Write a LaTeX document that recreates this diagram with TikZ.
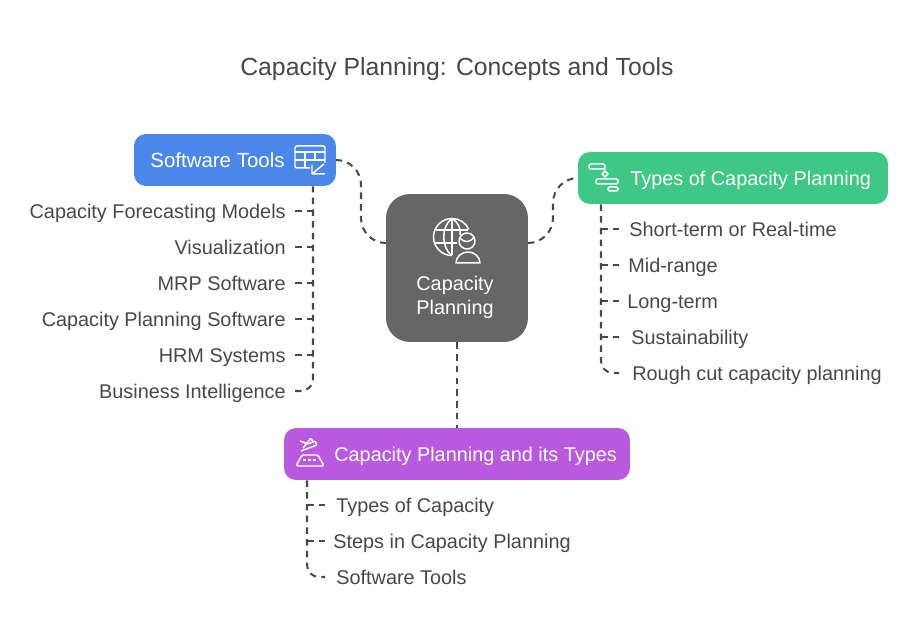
\documentclass[tikz,border=0pt]{standalone}
\usepackage{fontspec}
\setmainfont{Liberation Sans}
\definecolor{toolsblue}{HTML}{4B87E8}
\definecolor{typesgreen}{HTML}{3EC785}
\definecolor{hubpurple}{HTML}{B859E0}
\definecolor{centregray}{HTML}{666666}
\definecolor{inkgray}{HTML}{484848}
\tikzset{
    box/.style={rectangle, rounded corners=0.24cm, minimum height=1.04cm, inner sep=0pt},
    boxtext/.style={text=white, font=\fontsize{11.3}{14}\selectfont, inner sep=0pt, anchor=west, text height=11.4pt, text depth=2.4pt},
    leaf/.style={text=inkgray, font=\fontsize{11.3}{14}\selectfont, inner ysep=0pt, text height=11.4pt, text depth=2.4pt},
    link/.style={draw=inkgray, line width=1.15pt, dash pattern=on 0.13cm off 0.105cm},
    icon/.style={draw=white, line width=0.85pt, line join=round}
}
\begin{document}
\begin{tikzpicture}[x=0.02cm, y=-0.02cm]
    \useasboundingbox (0,0) rectangle (914,638);
    \node[text=inkgray, font=\fontsize{14.1}{16}\selectfont, text height=12.7pt, text depth=3pt] (title) at (457,67) {Capacity Planning: Concepts and Tools};

    % Boxes
    \node[box, fill=centregray, rounded corners=0.48cm, minimum width=2.84cm, minimum height=2.96cm] (capacity) at (457,268) {};
    \node[box, fill=toolsblue, minimum width=4.04cm] (tools) at (235,160) {};
    \node[box, fill=typesgreen, minimum width=6.2cm] (types) at (733,178) {};
    \node[box, fill=hubpurple, minimum width=6.92cm] (hub) at (457,454) {};
    \node[boxtext, font=\fontsize{11.65}{14}\selectfont] (toolstext) at (150,160) {Software Tools};
    \node[boxtext] (typestext) at (630,178) {Types of Capacity Planning};
    \node[boxtext] (hubtext) at (334,454) {Capacity Planning and its Types};
    \node[text=white, font=\fontsize{11.3}{13.6}\selectfont, align=center, inner sep=0pt] (capacitytext) at (455,297) {Capacity\\Planning};

    % Links from the centre
    \coordinate (capleft) at (386,243);
    \coordinate (capright) at (528,243);
    \draw[link, rounded corners=0.5cm] (tools.east) -- (361,160) -- (361,243) -- (capleft);
    \draw[link, rounded corners=0.5cm] (capright) -- (553,243) -- (553,178) -- (types.west);
    \draw[link] (capacity.south) -- (hub.north);

    % Left list
    \foreach \y/\nm/\txt in {211/tlA/Capacity Forecasting Models, 247/tlB/Visualization, 283/tlC/MRP Software,
        319/tlD/Capacity Planning Software, 355/tlE/HRM Systems} {
        \node[leaf, anchor=east, inner xsep=0.18cm] (\nm) at (295,\y) {\txt};
        \coordinate (\nm j) at (313,\y);
        \draw[link] (\nm.east) -- (\nm j);
    }
    \node[leaf, anchor=east, inner xsep=0.18cm] (tlF) at (295,391) {Business Intelligence};
    \coordinate (toolsend) at (313,391);
    \draw[link, rounded corners=0.24cm] (tlF.east) -- (toolsend) -- (tools.south -| toolsend);

    % Right list
    \foreach \y/\s/\nm/\txt in {229/0.2/tyA/Short-term or Real-time, 265/0.18/tyB/Mid-range, 301/0.16/tyC/Long-term,
        337/0.24/tyD/Sustainability} {
        \node[leaf, anchor=west, inner xsep=\s cm] (\nm) at (619,\y) {\txt};
        \coordinate (\nm j) at (601,\y);
        \draw[link] (\nm j) -- (\nm.west);
    }
    \node[leaf, anchor=west, inner xsep=0.26cm] (tyE) at (619,373) {Rough cut capacity planning};
    \coordinate (typesend) at (601,373);
    \draw[link, rounded corners=0.24cm] (types.south -| typesend) -- (typesend) -- (tyE.west);

    % Bottom list
    \foreach \y/\s/\nm/\txt in {505/0.22/hbA/Types of Capacity, 541/0.16/hbB/Steps in Capacity Planning} {
        \node[leaf, anchor=west, inner xsep=\s cm] (\nm) at (325,\y) {\txt};
        \coordinate (\nm j) at (307,\y);
        \draw[link] (\nm j) -- (\nm.west);
    }
    \node[leaf, anchor=west, inner xsep=0.22cm] (hbC) at (325,577) {Software Tools};
    \coordinate (hubend) at (307,577);
    \draw[link, rounded corners=0.24cm] (hub.south -| hubend) -- (hubend) -- (hbC.west);

    % Table icon
    \draw[icon, rounded corners=0.04cm] (310,168) -- (295,168) -- (295,146) -- (325,146) -- (325,163);
    \draw[icon] (295,152) -- (325,152) (295,160) -- (325,160) (305,152) -- (305,168) (315,152) -- (315,160);
    \draw[icon] (312,165) -- (312,174) -- (325,174) (312,174) -- (324,164);

    % Globe and person icon
    \draw[icon] (452,255.5) arc (90:335:18.5);
    \draw[icon] (452,218.5) .. controls (441,226) and (441,248) .. (452,255.5);
    \draw[icon] (452,218.5) .. controls (459,223) and (461,229) .. (460,235);
    \draw[icon] (452,218.5) -- (452,255.5) (436,230) -- (468,230) (435,243) -- (457,243);
    \draw[icon] (467,241) circle (8);
    \draw[icon] (460,238) .. controls (464,243) and (470,243) .. (474,237);
    \draw[icon] (456,263) arc (180:360:12 and 11) -- cycle;

    % Gantt icon
    \draw[icon, rounded corners=0.03cm] (589,164) rectangle (605,169);
    \draw[icon, rounded corners=0.03cm] (596,179) rectangle (618,184);
    \draw[icon, rounded corners=0.03cm] (608,187) rectangle (618,191);
    \draw[icon] (605,169) -- (605,171) (605,171) -- (608,174) -- (605,177) -- (602,174) -- cycle (605,177) -- (605,179);

    % Planning desk icon
    \draw[icon, rounded corners=0.03cm] (302,455) -- (296,466) -- (324,466) -- (318,455) -- cycle;
    \draw[icon, dash pattern=on 0.06cm off 0.04cm] (303,460) -- (318,460);
    \draw[icon, rounded corners=0.02cm] (301,451) -- (317,445) -- (315,441) -- (308,444) -- (300,441) (303,448) -- (311,438) -- (313,442);
\end{tikzpicture}
\end{document}
